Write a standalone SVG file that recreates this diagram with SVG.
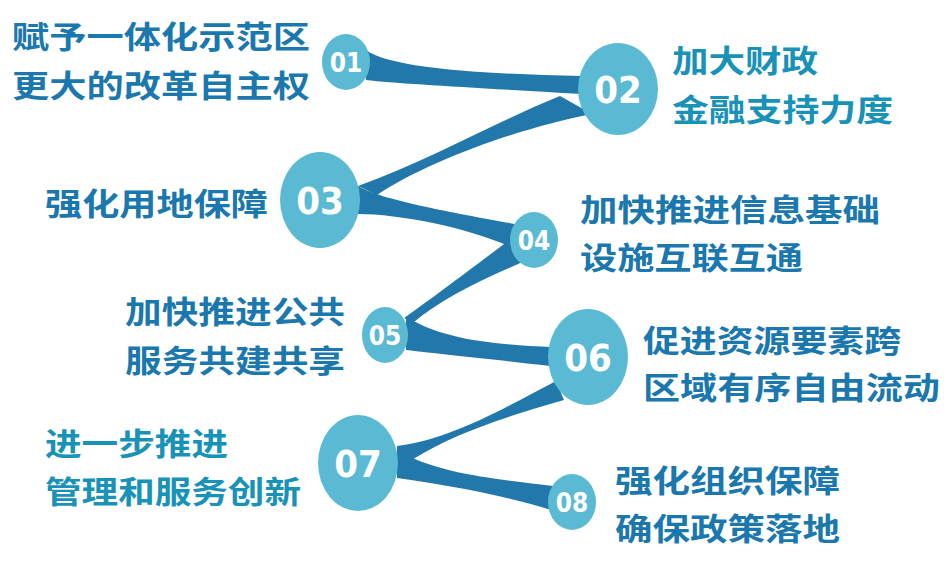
<svg xmlns="http://www.w3.org/2000/svg" width="951" height="578" viewBox="0 0 951 578">
<style>
.c{fill:#5bbad3}
.b{fill:#2378ab}
.n{fill:#fff;font-family:"DejaVu Sans Condensed","Liberation Sans",sans-serif;font-weight:bold;text-anchor:middle}
.t{font-family:"Noto Sans CJK SC",sans-serif;font-weight:bold;font-size:31px;fill:#1a78ae}
.t2{fill:#1992b8}
</style>
<rect width="951" height="578" fill="#fff"/>
<g id="connectors">
<path class="b" d="M366,50 C390,68 480,74 582,76 L582,94 C480,88 400,84 366,80 Z"/>
<path class="b" d="M560,96 L592,114 C520,128 430,160 377,195 L358,186 C430,160 500,120 560,96 Z"/>
<path class="b" d="M358,186 C380,200 460,214 515,224 L513,248 C470,228 400,214 358,214 Z"/>
<path class="b" d="M512,238 L532,258 C480,280 440,300 414,322 L404,318 C430,300 480,262 512,238 Z"/>
<path class="b" d="M406,316 C440,340 500,345 552,347 L550,366 C500,360 440,354 406,350 Z"/>
<path class="b" d="M556,381 L564,400 C500,418 450,436 415,458 L397,472 L397,446 C450,440 510,405 556,381 Z"/>
<path class="b" d="M397,450 C440,476 510,480 553,486 L551,510 C500,494 440,484 397,478 Z"/>
</g>
<g id="n01"><ellipse class="c" cx="346" cy="62" rx="24" ry="28"/><text class="n" x="346" y="72" font-size="26">01</text></g>
<g id="n02"><ellipse class="c" cx="618" cy="89" rx="40" ry="46"/><text class="n" x="618" y="103" font-size="38">02</text></g>
<g id="n03"><ellipse class="c" cx="320" cy="200" rx="40" ry="48"/><text class="n" x="320" y="214" font-size="38">03</text></g>
<g id="n04"><ellipse class="c" cx="534" cy="240" rx="24" ry="28"/><text class="n" x="534" y="250" font-size="26">04</text></g>
<g id="n05"><ellipse class="c" cx="385" cy="335" rx="23" ry="28"/><text class="n" x="385" y="345" font-size="26">05</text></g>
<g id="n06"><ellipse class="c" cx="588" cy="357" rx="40" ry="48"/><text class="n" x="588" y="371" font-size="38">06</text></g>
<g id="n07"><ellipse class="c" cx="358" cy="463" rx="40" ry="48"/><text class="n" x="358" y="477" font-size="38">07</text></g>
<g id="n08"><ellipse class="c" cx="572" cy="502" rx="24" ry="28"/><text class="n" x="572" y="512" font-size="26">08</text></g>
<g id="labels">
<text class="t" x="12" y="48" textLength="298" lengthAdjust="spacingAndGlyphs">赋予一体化示范区</text>
<text class="t" x="12" y="97" textLength="298" lengthAdjust="spacingAndGlyphs">更大的改革自主权</text>
<text class="t t2" x="672" y="72" textLength="146" lengthAdjust="spacingAndGlyphs">加大财政</text>
<text class="t t2" x="672" y="121" textLength="221" lengthAdjust="spacingAndGlyphs">金融支持力度</text>
<text class="t" x="45" y="215" textLength="223" lengthAdjust="spacingAndGlyphs">强化用地保障</text>
<text class="t" x="580" y="221" textLength="300" lengthAdjust="spacingAndGlyphs">加快推进信息基础</text>
<text class="t" x="580" y="269" textLength="223" lengthAdjust="spacingAndGlyphs">设施互联互通</text>
<text class="t" x="125" y="323" textLength="220" lengthAdjust="spacingAndGlyphs">加快推进公共</text>
<text class="t" x="125" y="372" textLength="220" lengthAdjust="spacingAndGlyphs">服务共建共享</text>
<text class="t" x="643" y="352" textLength="258" lengthAdjust="spacingAndGlyphs">促进资源要素跨</text>
<text class="t" x="643" y="399" textLength="297" lengthAdjust="spacingAndGlyphs">区域有序自由流动</text>
<text class="t t2" x="45" y="455" textLength="183" lengthAdjust="spacingAndGlyphs">进一步推进</text>
<text class="t t2" x="45" y="503" textLength="256" lengthAdjust="spacingAndGlyphs">管理和服务创新</text>
<text class="t" x="615" y="492" textLength="225" lengthAdjust="spacingAndGlyphs">强化组织保障</text>
<text class="t" x="615" y="540" textLength="225" lengthAdjust="spacingAndGlyphs">确保政策落地</text>
</g>
</svg>
